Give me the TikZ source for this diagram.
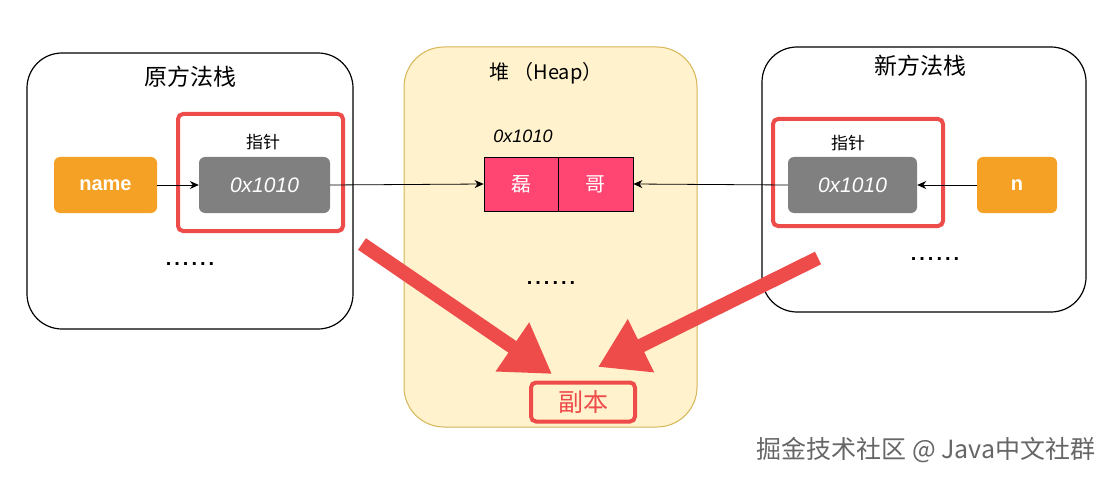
\documentclass[tikz,border=0pt]{standalone}
\usepackage{fontspec}
\setmainfont{Liberation Sans}
\newfontfamily\cjk{Noto Sans CJK SC}
\usetikzlibrary{arrows.meta}
\definecolor{redb}{HTML}{EE4B4B}
\definecolor{orangeb}{HTML}{F4A125}
\definecolor{greyb}{HTML}{808080}
\definecolor{pinkb}{HTML}{FF4672}
\definecolor{heapfill}{HTML}{FFF2CC}
\definecolor{heapdraw}{HTML}{D6B656}
\newcommand{\mydots}{.\kern3pt.\kern3pt.\kern3pt.\kern3pt.\kern3pt.}
\tikzset{
  x=1pt,y=-1pt,
  frame/.style={draw=black,line width=1.2pt,rounded corners=35pt},
  redframe/.style={draw=redb,line width=4pt,rounded corners=5pt},
  grey/.style={fill=greyb,rounded corners=6pt,text=white,font=\fontsize{21}{21}\selectfont\itshape},
  orange/.style={fill=orangeb,rounded corners=6pt,text=white,font=\fontsize{20}{20}\selectfont\bfseries},
  pink/.style={fill=pinkb,draw=black,line width=0.8pt,text=white,font=\cjk\fontsize{20}{20}\selectfont},
  title/.style={font=\cjk\fontsize{23}{23}\selectfont},
  small/.style={font=\cjk\fontsize{17}{17}\selectfont},
  dots/.style={font=\fontsize{20}{20}\selectfont\bfseries},
  link/.style={draw=black,line width=0.8pt,-{Stealth[length=9pt,width=8pt]}},
  bigarrow/.style={draw=redb,line width=14pt,-{Triangle[length=48pt,width=56pt]}},
}
\begin{document}
\begin{tikzpicture}
\useasboundingbox (0,0) rectangle (1115,481);
% left stack
\draw[frame] (27,53) rectangle (353,329);
\node[title] (t1) at (190,77) {原方法栈};
\draw[redframe] (178,114) rectangle (343,231);
\node[small] (p1) at (263,142) {指针};
\node[grey,minimum width=131pt,minimum height=56pt] (g1) at (264.5,185) {0x1010};
\node[orange,minimum width=103pt,minimum height=56pt] (name) at (105.5,185) {name};
\node[dots] (d1) at (190,264) {\mydots};
% heap
\draw[fill=heapfill,draw=heapdraw,line width=1pt,rounded corners=40pt] (404,47) rectangle (697,427);
\node[font=\cjk\fontsize{20}{20}\selectfont] (ht) at (546,73) {堆\kern4pt（\textit{Heap}）};
\node[font=\fontsize{18}{18}\selectfont\itshape] (addr) at (523,136) {0x1010};
\node[pink,minimum width=74pt,minimum height=54pt] (lei) at (521,184) {磊};
\node[pink,minimum width=75pt,minimum height=54pt] (ge) at (595.5,184) {哥};
\node[dots] (d2) at (551,283) {\mydots};
% right stack
\draw[frame] (762,47) rectangle (1086,312);
\node[title] (t2) at (920,66) {新方法栈};
\draw[redframe] (773,119) rectangle (943,226);
\node[small] (p2) at (848,143) {指针};
\node[grey,minimum width=129pt,minimum height=56pt] (g2) at (852.5,185) {0x1010};
\node[orange,minimum width=80pt,minimum height=56pt] (n) at (1017,185) {n};
\node[dots] (d3) at (935,259) {\mydots};
% links
\draw[link] (name) -- (g1);
\draw[link] (g1.east) -- (lei.west);
\draw[link] (g2.west) -- (ge.east);
\draw[link] (n) -- (g2);
% copy
\node[draw=redb,line width=4pt,rounded corners=5pt,minimum width=104pt,minimum height=39pt,text=redb,font=\cjk\fontsize{25}{25}\selectfont] (copy) at (583,402) {副本};
\coordinate (s1) at (362,244);
\coordinate (e1) at (552,374);
\coordinate (s2) at (818,258);
\coordinate (e2) at (598,367);
\draw[bigarrow] (s1) -- (e1);
\draw[bigarrow] (s2) -- (e2);
% watermark
\node[font=\cjk\fontsize{25}{25}\selectfont,text=black!60,anchor=east] (wm) at (1099,450) {掘金技术社区 @ Java中文社群};
\end{tikzpicture}
\end{document}
